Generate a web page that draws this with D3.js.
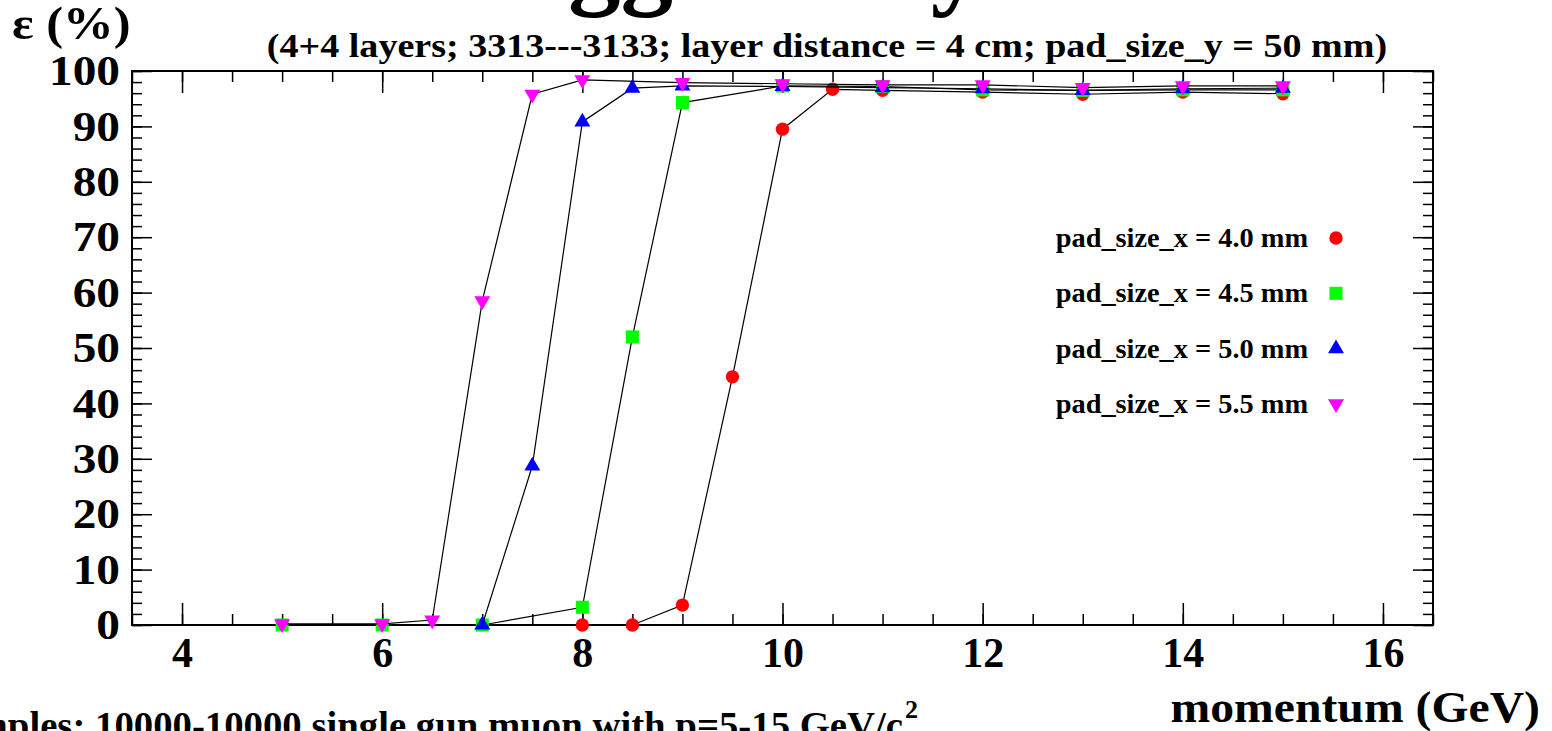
<!DOCTYPE html>
<html>
<head>
<meta charset="utf-8">
<script src="https://cdn.jsdelivr.net/npm/d3@7"></script>
<style>
  body { margin: 0; background: #fff; }
  svg { display: block; }
  text { font-family: "Liberation Serif", "Times New Roman", serif; font-weight: bold; fill: #000; }
  .axis path { display: none; }
  .axis line { stroke: #000; stroke-width: 1.5px; }
</style>
</head>
<body>
<svg id="chart" width="1552" height="731"></svg>
<script>
// data
var seriesLabels = ["pad_size_x = 4.0 mm", "pad_size_x = 4.5 mm", "pad_size_x = 5.0 mm", "pad_size_x = 5.5 mm"];
var seriesColors = ["#ff0000", "#00ff00", "#0000ff", "#ff00ff"];
var seriesShapes = ["circle", "square", "triangle", "triangledown"];

var p_40 = [8, 8.5, 9, 9.5, 10, 10.5, 11, 12, 13, 14, 15];
var eff_40 = [0, 0, 3.6, 44.8, 89.5, 96.7, 96.5, 96.2, 95.8, 96.2, 95.9];

var p_45 = [5, 6, 7, 8, 8.5, 9, 10, 11, 12, 13, 14, 15];
var eff_45 = [0, 0, 0, 3.2, 52.0, 94.3, 97.3, 97.2, 96.6, 96.5, 96.6, 96.6];

var p_50 = [7, 7.5, 8, 8.5, 9, 10, 11, 12, 13, 14, 15];
var eff_50 = [0, 28.7, 90.8, 96.9, 97.3, 97.2, 97.0, 96.8, 96.5, 96.8, 96.9];

var p_55 = [5, 6, 6.5, 7, 7.5, 8, 9, 10, 11, 12, 13, 14, 15];
var eff_55 = [0.2, 0.2, 0.9, 58.5, 95.8, 98.4, 97.9, 97.7, 97.5, 97.5, 97.0, 97.3, 97.3];

var xMajorTicks = [4, 6, 8, 10, 12, 14, 16];
var yMajorTicks = [0, 10, 20, 30, 40, 50, 60, 70, 80, 90, 100];

// only the descenders of the big title are inside the picture
var titleText = "Trigger only";
var subTitle = "(4+4 layers; 3313---3133; layer distance = 4 cm; pad_size_y = 50 mm)";
var yTitle = "\u03b5 (%)";
var xTitle = "momentum (GeV)";
var sampleText = "Samples: 10000-10000 single gun muon with p=5-15 GeV/c";

var allSeries = [
    {p: p_40, eff: eff_40},
    {p: p_45, eff: eff_45},
    {p: p_50, eff: eff_50},
    {p: p_55, eff: eff_55}
];

var svg = d3.select("#chart");
var frame = {left: 132, right: 1433, top: 71, bottom: 625};

var x = d3.scaleLinear().domain([3.5, 16.5]).range([frame.left, frame.right]);
var y = d3.scaleLinear().domain([0, 100]).range([frame.bottom, frame.top]);

var xMinor = d3.range(3.5, 16.51, 0.5);
var yMinor = d3.range(0, 100.1, 2);

// text with a horizontal stretch, the root fonts come out wider
function label(px, py, str, size, anchor, sx) {
    return svg.append("text")
        .attr("transform", "translate(" + px + "," + py + ") scale(" + (sx || 1) + ",1)")
        .attr("text-anchor", anchor || "start")
        .style("font-size", size + "px")
        .text(str);
}

// minor ticks, all four sides
svg.append("g").attr("class", "axis")
    .attr("transform", "translate(0," + frame.bottom + ")")
    .call(d3.axisBottom(x).tickValues(xMinor).tickSize(-11).tickFormat(""));
svg.append("g").attr("class", "axis")
    .attr("transform", "translate(0," + frame.top + ")")
    .call(d3.axisTop(x).tickValues(xMinor).tickSize(-11).tickFormat(""));
svg.append("g").attr("class", "axis")
    .attr("transform", "translate(" + frame.left + ",0)")
    .call(d3.axisLeft(y).tickValues(yMinor).tickSize(-10).tickFormat(""));
svg.append("g").attr("class", "axis")
    .attr("transform", "translate(" + frame.right + ",0)")
    .call(d3.axisRight(y).tickValues(yMinor).tickSize(-10).tickFormat(""));

// major ticks with labels
var xAxis = svg.append("g").attr("class", "axis")
    .attr("transform", "translate(0," + frame.bottom + ")")
    .call(d3.axisBottom(x).tickValues(xMajorTicks).tickSize(-22).tickPadding(12).tickFormat(d3.format("d")));
xAxis.selectAll("text").style("font-size", "42px");

svg.append("g").attr("class", "axis")
    .attr("transform", "translate(0," + frame.top + ")")
    .call(d3.axisTop(x).tickValues(xMajorTicks).tickSize(-22).tickFormat(""));

var yAxis = svg.append("g").attr("class", "axis")
    .attr("transform", "translate(" + frame.left + ",0)")
    .call(d3.axisLeft(y).tickValues(yMajorTicks).tickSize(-20).tickPadding(12).tickFormat(d3.format("d")));
yAxis.selectAll("text")
    .style("font-size", "43px")
    .attr("transform", "translate(-12,0) scale(1.1,1) translate(12,0)");

svg.append("g").attr("class", "axis")
    .attr("transform", "translate(" + frame.right + ",0)")
    .call(d3.axisRight(y).tickValues(yMajorTicks).tickSize(-20).tickFormat(""));

// frame
svg.append("rect")
    .attr("x", frame.left).attr("y", frame.top)
    .attr("width", frame.right - frame.left).attr("height", frame.bottom - frame.top)
    .attr("fill", "none").attr("stroke", "#000").attr("stroke-width", 2);

// marker shapes
function symbolFor(shape) {
    if (shape === "circle") return d3.symbol().type(d3.symbolCircle).size(140)();
    if (shape === "square") return d3.symbol().type(d3.symbolSquare).size(170)();
    return d3.symbol().type(d3.symbolTriangle).size(110)();
}
function rot(shape) { return shape === "triangledown" ? " rotate(180)" : ""; }

var line = d3.line().x(function(d) { return x(d[0]); }).y(function(d) { return y(d[1]); });

allSeries.forEach(function(s, i) {
    var pts = s.p.map(function(v, j) { return [v, s.eff[j]]; });
    svg.append("path")
        .attr("d", line(pts))
        .attr("fill", "none")
        .attr("stroke", "#000")
        .attr("stroke-width", 1.2);
    svg.append("g").selectAll("path")
        .data(pts)
        .enter()
        .append("path")
        .attr("d", symbolFor(seriesShapes[i]))
        .attr("transform", function(d) { return "translate(" + x(d[0]) + "," + y(d[1]) + ")" + rot(seriesShapes[i]); })
        .attr("fill", seriesColors[i]);
});

// legend
seriesLabels.forEach(function(lab, i) {
    var ly = 238 + i * 55.3;
    label(1308, ly + 9, lab, 27, "end", 1.05);
    svg.append("path")
        .attr("d", symbolFor(seriesShapes[i]))
        .attr("transform", "translate(1336," + ly + ")" + rot(seriesShapes[i]))
        .attr("fill", seriesColors[i]);
});

// titles
label(430, -5, titleText, 105, "start", 1);
label(827, 57, subTitle, 34, "middle", 1.12);
label(12, 39, yTitle, 46, "start", 1.1);
label(1540, 722, xTitle, 45, "end", 1.06);
label(903, 738, sampleText, 38, "end", 1.02);
label(905, 718, "2", 26, "start", 1);
</script>
</body>
</html>
